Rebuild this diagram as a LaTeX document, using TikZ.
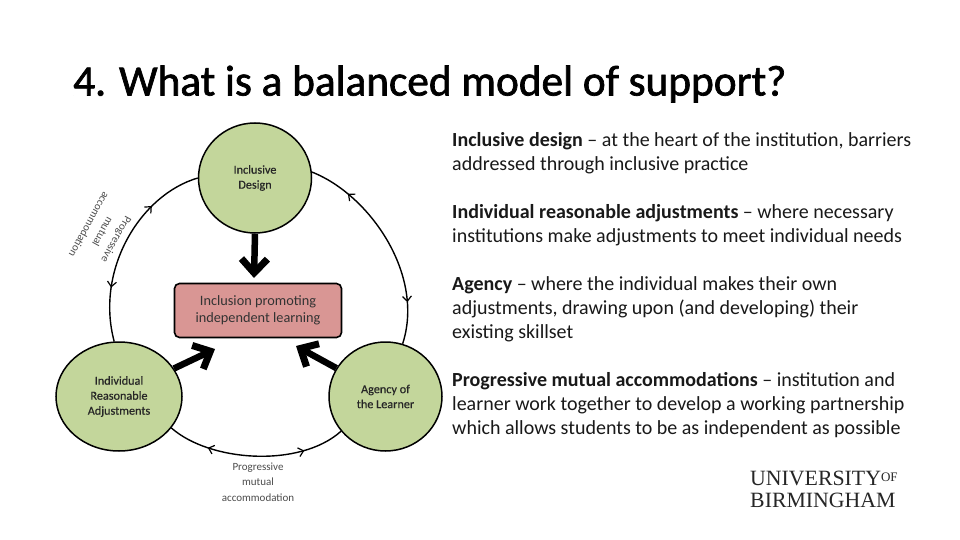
\documentclass[tikz,border=0pt]{standalone}
\usepackage{fontspec}
\setmainfont{Carlito}
\newfontfamily\titlefont[FakeBold=1.6]{Carlito}
\newfontfamily\hubfont[FakeBold=0.5]{Carlito}
\newfontfamily\logofont{Liberation Serif}
\usetikzlibrary{shapes.geometric,arrows.meta,decorations.markings}
\definecolor{hubgreen}{HTML}{C3D69B}
\definecolor{hubred}{HTML}{D99694}
\tikzset{
  x=1pt,y=-1pt,
  hub/.style={ellipse,draw=black,line width=1.5pt,fill=hubgreen,inner sep=0pt,align=center,font=\hubfont\fontsize{12.2}{15}\selectfont,text=black!85},
  core/.style={rectangle,rounded corners=5pt,draw=black,line width=1.6pt,fill=hubred,minimum width=167pt,minimum height=54pt,inner sep=0pt,align=center,font=\fontsize{14.3}{17}\selectfont,text=black!80},
  bigarrow/.style={line width=6.5pt,-{Straight Barb[length=14pt,width=26pt,line width=7pt]}},
  ringarc/.style={line width=1.4pt,decoration={markings,
     mark=at position #1 with {\arrowreversed{Straight Barb[length=5pt,width=9pt,line width=1.2pt]}},
     mark=at position 1-#1 with {\arrow{Straight Barb[length=5pt,width=9pt,line width=1.2pt]}}},postaction={decorate}},
  smalllabel/.style={align=center,font=\fontsize{11}{15.5}\selectfont,text=black!70,inner sep=0pt},
  para/.style={anchor=north west,align=left,inner sep=0pt,font=\fontsize{20}{24}\selectfont,text=black!90},
}
\begin{document}
\begin{tikzpicture}
\useasboundingbox[fill=white] (0,0) rectangle (960,540);
\node[anchor=west,inner sep=0pt,font=\titlefont\fontsize{43.3}{46}\selectfont] (title) at (73,84) {4. What is a balanced model of support?};

\node[hub,minimum width=113pt,minimum height=110pt] (inc) at (255,178) {Inclusive\\Design};
\node[hub,minimum width=126pt,minimum height=109pt] (ind) at (119,396.5) {Individual\\Reasonable\\Adjustments};
\node[hub,minimum width=113pt,minimum height=109pt] (age) at (385.5,396.5) {Agency of\\the Learner};
\node[core] (box) at (258,310.5) {Inclusion promoting\\independent learning};

\coordinate (tipa) at (254,278);
\coordinate (tipb) at (215,349);
\coordinate (tipc) at (296,346);
\draw[bigarrow] (inc.south) -- (tipa);
\draw[bigarrow] (ind.27) -- (tipb);
\draw[bigarrow] (age.150) -- (tipc);

\draw[ringarc=0.2] (inc.6) .. controls (370,195) and (425,275) .. (age.72);
\draw[ringarc=0.27] (inc.west) .. controls (140,195) and (95,270) .. (ind.95);
\draw[ringarc=0.23] (ind.-31) .. controls (210,462) and (300,468) .. (age.218);

\node[smalllabel] (lbottom) at (258,482) {Progressive\\mutual\\accommodation};
\node[smalllabel,rotate=241] (lleft) at (103,232) {Progressive\\mutual\\accommodation};

\node[para] (p1) at (452,132) {\textbf{Inclusive design} -- at the heart of the institution, barriers\\addressed through inclusive practice};
\node[para] (p2) at (452,204) {\textbf{Individual reasonable adjustments} -- where necessary\\institutions make adjustments to meet individual needs};
\node[para] (p3) at (452,276) {\textbf{Agency} -- where the individual makes their own\\adjustments, drawing upon (and developing) their\\existing skillset};
\node[para] (p4) at (452,372) {\textbf{Progressive mutual accommodations} -- institution and\\learner work together to develop a working partnership\\which allows students to be as independent as possible};

\node[anchor=north west,inner sep=0pt,align=left,font=\logofont\fontsize{21.8}{22}\selectfont,text=black!85] (logo) at (750,471) {UNIVERSITY\raisebox{4pt}{\fontsize{13}{13}\selectfont OF}\\BIRMINGHAM};
\end{tikzpicture}
\end{document}
